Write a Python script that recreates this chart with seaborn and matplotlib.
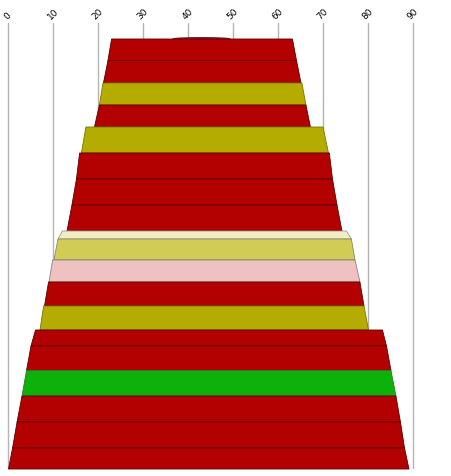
import matplotlib
matplotlib.use("Agg")
import matplotlib.pyplot as plt
from matplotlib.patches import Ellipse
import seaborn as sns

# layer boundaries (depth, top -> bottom) and widths on the 0-90 scale
depth_top = [0, 21.5, 44, 66, 88, 114, 140, 166, 192, 200, 221, 243, 267, 291, 307, 331.5, 357, 383, 409]
depth_bot = [21.5, 44, 66, 88, 114, 140, 166, 192, 200, 221, 243, 267, 291, 307, 331.5, 357, 383, 409, 430]
left_top = [22.9, 22.1, 21.0, 20.2, 17.2, 15.8, 15.1, 14.1, 12.0, 11.0, 9.8, 8.9, 7.8, 6.0, 5.0, 4.0, 3.0, 1.9, 0.9]
left_bot = [22.1, 21.1, 20.2, 19.1, 16.2, 15.1, 14.1, 13.0, 11.0, 10.1, 9.0, 8.0, 7.0, 5.0, 4.0, 3.0, 1.9, 0.9, 0.0]
right_top = [63.1, 64.0, 65.2, 66.1, 69.9, 71.3, 72.0, 73.0, 75.1, 76.2, 77.0, 78.1, 79.0, 83.1, 84.0, 85.0, 86.1, 87.1, 88.0]
right_bot = [64.0, 65.0, 66.1, 67.1, 71.1, 72.0, 73.0, 74.1, 76.2, 77.0, 78.1, 79.0, 80.0, 84.0, 85.0, 86.1, 87.1, 88.0, 89.0]
layer_type = ["red", "red", "olive", "red", "olive", "red", "red", "red", "cream", "lightolive",
              "pink", "red", "olive", "red", "red", "green", "red", "red", "red"]
x_ticks = [0, 10, 20, 30, 40, 50, 60, 70, 80, 90]

fills = {"red": "#b30000", "olive": "#b4ac00", "cream": "#f0edc4", "lightolive": "#d1cc55",
         "pink": "#efc1c1", "green": "#0eb10a"}
edges = {"red": "#5c0000", "olive": "#7a7500", "cream": "#9a9a90", "lightolive": "#8a8760",
         "pink": "#8a7f7f", "green": "#2a7a2a"}

sns.set_style("white")
fig = plt.figure(figsize=(4.52, 4.77), dpi=100)
# 4.5 px per unit; pad the x range by 4 px so the outer grid lines are not clipped
pad = 4 / 4.5
ax = fig.add_axes([4 / 452, 7 / 477, 413 / 452, 446 / 477])

for i, kind in enumerate(layer_type):
    ax.fill_betweenx([depth_top[i], depth_bot[i]], [left_top[i], left_bot[i]], [right_top[i], right_bot[i]],
                     facecolor=fills[kind], edgecolor=edges[kind], linewidth=0.6, zorder=3)

# small rounded cap on the top layer
ax.add_patch(Ellipse((43, depth_top[0]), 13, 3, facecolor="#7a2020", edgecolor="none", zorder=2))

ax.set_xlim(-pad, 90 + pad)
ax.set_ylim(430.5, -15.5)
ax.set_xticks(x_ticks)
ax.set_xticklabels([str(t) for t in x_ticks], rotation=45, fontsize=6.5, color="black")
ax.xaxis.tick_top()
ax.tick_params(axis="x", length=0, pad=2)
ax.set_yticks([])
ax.grid(axis="x", color="#b4b4b4", linewidth=1, zorder=0)
ax.set_axisbelow(True)
for s in ax.spines.values():
    s.set_visible(False)

fig.savefig("out.png", dpi=100)
